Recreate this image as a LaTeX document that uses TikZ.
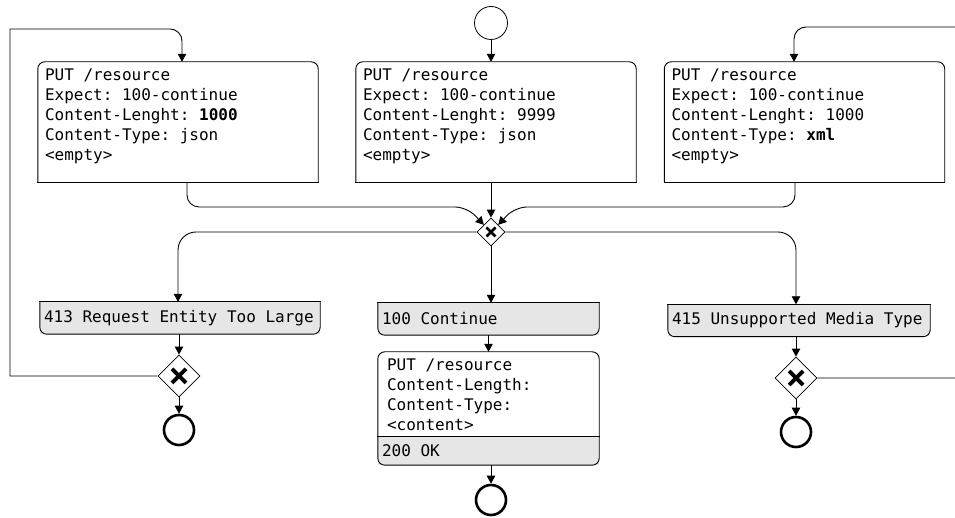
\documentclass[tikz,border=0pt]{standalone}
\usepackage{fontspec}
\setmonofont{DejaVu Sans Mono}
\usepackage{tikz}
\usetikzlibrary{shapes.geometric, arrows.meta, positioning}
\definecolor{respgray}{HTML}{E6E6E6}

\begin{document}
\begin{tikzpicture}[
    x=1pt, y=1pt,
    every node/.style={font=\ttfamily\fontsize{16}{20}\selectfont,
                 execute at begin node={\spaceskip=0pt\xspaceskip=0pt\relax}},
    body/.style={rectangle, align=left, inner ysep=0pt},
    request/.style={body, minimum height=120pt, text width=266pt, inner xsep=7pt,
                 execute at end node={\endgraf\kern12pt}},
    response/.style={rectangle, fill=respgray, minimum height=32pt, align=left,
                 inner xsep=4pt, inner ysep=0pt},
    xmark/.style={path picture={\draw[line width=#1/1.8]
        ([shift={(-#1,-#1)}]path picture bounding box.center) -- ([shift={(#1,#1)}]path picture bounding box.center)
        ([shift={(-#1,#1)}]path picture bounding box.center) -- ([shift={(#1,-#1)}]path picture bounding box.center);}},
    gateway/.style={diamond, draw, fill=white, line width=0.8pt, inner sep=0pt,
                 minimum size=42pt, xmark=7pt},
    startevent/.style={circle, draw, line width=0.8pt, minimum size=33pt, inner sep=0pt},
    endevent/.style={circle, draw, line width=2.6pt, minimum size=30pt, inner sep=0pt},
    arrow/.style={-{Triangle[length=8pt,width=8.5pt]}, line width=0.9pt}
]
\useasboundingbox (0,0) rectangle (955,518);
\clip (0,0) rectangle (955,518);

% Requests
\node[startevent] at (491,495) (start-event) {};
\node[request] at (178,396) (req-size) {PUT /resource\\Expect: 100-continue\\Content-Lenght: \textbf{1000}\\Content-Type: json\\<empty>};
\node[request] at (496,396) (req-check) {PUT /resource\\Expect: 100-continue\\Content-Lenght: 9999\\Content-Type: json\\<empty>};
\node[request] at (804.5,396) (req-type) {PUT /resource\\Expect: 100-continue\\Content-Lenght: 1000\\Content-Type: \textbf{xml}\\<empty>};

\node[gateway, minimum size=28pt, xmark=4.5pt] at (491,286) (gw-check) {};

% Responses
\node[response, text width=272pt] at (180,200) (resp-413) {413 Request Entity Too Large};
\node[response, text width=213pt] at (488.5,199) (resp-100) {100 Continue};
\node[response, text width=254pt] at (799,197.5) (resp-415) {415 Unsupported Media Type};
\node[body, text width=203pt, inner xsep=9pt, minimum height=85pt] at (488.5,123.5) (put-body) {PUT /resource\\Content-Length:\\Content-Type:\\<content>};
\node[response, text width=213pt, minimum height=28pt] at (488.5,67) (resp-200) {200 OK};

\node[gateway] at (179,142) (gw-413) {};
\node[gateway] at (796,140) (gw-415) {};

\node[endevent] at (179,88) (end-413) {};
\node[endevent] at (491,18) (end-ok) {};
\node[endevent] at (796,86) (end-415) {};

% Outlines
\foreach \n in {req-size, req-check, req-type, put-body}
  \draw[line width=0.9pt, rounded corners=7pt] (\n.south west) -- (\n.north west) -- (\n.north east) -- (\n.south east);
\foreach \n in {req-size, req-check, req-type}
  \draw[line width=0.9pt, line cap=rect] (\n.south west) -- (\n.south east);
\foreach \n in {resp-413, resp-100, resp-415, resp-200}
  \draw[line width=0.9pt, rounded corners=7pt] (\n.north west) -- (\n.south west) -- (\n.south east) -- (\n.north east);
\foreach \n in {resp-413, resp-100, resp-415, resp-200}
  \draw[line width=0.9pt, line cap=rect] (\n.north west) -- (\n.north east);

% Arrows
\draw[arrow] (start-event) -- (start-event |- req-check.north);
\draw[arrow, rounded corners=12pt] ([xshift=9pt]req-size.south) |- (467,311) -- (gw-check.north west);
\draw[arrow] (gw-check |- req-check.south) -- (gw-check.north);
\draw[arrow, rounded corners=12pt] ([xshift=-9.5pt]req-type.south) |- (515,311) -- (gw-check.north east);

\draw[arrow, rounded corners=18pt] (gw-check.west) -| ([xshift=-2pt]resp-413.north);
\draw[arrow] (gw-check.south) -- (gw-check.south |- resp-100.north);
\draw[arrow, rounded corners=18pt] (gw-check.east) -| ([xshift=-3pt]resp-415.north);

\draw[arrow] (resp-100) -- (put-body);
\draw[arrow] (end-ok |- resp-200.south) -- (end-ok.north);

\draw[arrow] (gw-413 |- resp-413.south) -- (gw-413.north);
\draw[arrow] (gw-413) -- (end-413);
\draw[arrow] (gw-415 |- resp-415.south) -- (gw-415.north);
\draw[arrow] (gw-415) -- (end-415);

% Retry loops
\draw[arrow] (gw-413.west) -| (10,489) -- (170,489) to[out=0,in=90] (182,477) -- ([xshift=4pt]req-size.north);
\draw[arrow] (gw-415.east) -| (962,491) -- (806,491) to[out=180,in=90] (794,479) -- ([xshift=-10.5pt]req-type.north);

\end{tikzpicture}
\end{document}
